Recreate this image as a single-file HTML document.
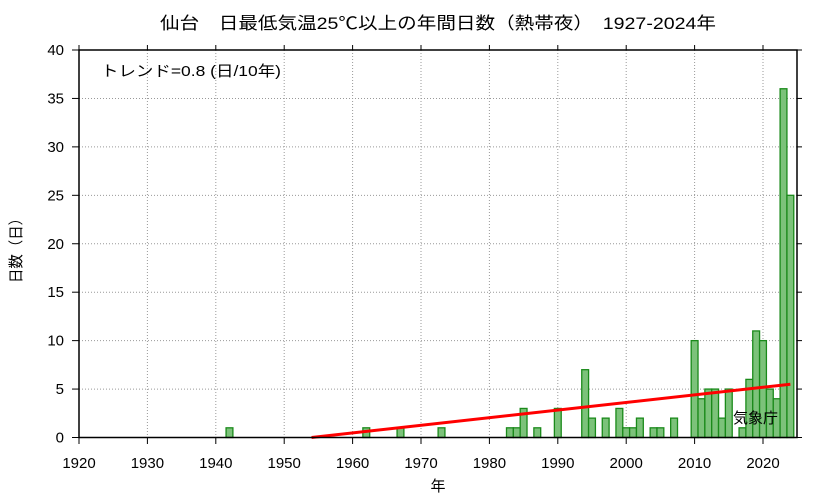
<!DOCTYPE html>
<html><head><meta charset="utf-8"><style>
body{margin:0;background:#fff}
svg{display:block;font-family:"Liberation Sans","Noto Sans CJK JP",sans-serif}
</style></head><body>
<svg id="s" width="833" height="498" viewBox="0 0 833 498"></svg>
<script>
var s=document.getElementById('s'),h='';
var X=function(y){return 79+(y-1920)*6.84},Y=function(v){return 437.5-v*9.6875};
for(var g=1930;g<=2020;g+=10){h+='<line x1="'+X(g)+'" y1="50" x2="'+X(g)+'" y2="437" stroke="#999" stroke-dasharray="1,2"/>';}
for(var v=5;v<=35;v+=5){h+='<line x1="79" y1="'+Y(v)+'" x2="797" y2="'+Y(v)+'" stroke="#999" stroke-dasharray="1,2"/>';}
var d={1942:1,1962:1,1967:1,1973:1,1983:1,1984:1,1985:3,1987:1,1990:3,1994:7,1995:2,1997:2,1999:3,2000:1,2001:1,2002:2,2004:1,2005:1,2007:2,2010:10,2011:4,2012:5,2013:5,2014:2,2015:5,2017:1,2018:6,2019:11,2020:10,2021:5,2022:4,2023:36,2024:25};
for(var k in d){var x=X(+k)-3.42;h+='<rect x="'+x+'" y="'+Y(d[k])+'" width="6.84" height="'+(437.5-Y(d[k]))+'" fill="#7cc27a" stroke="#1a8a1a" stroke-width="1.3"/>';}
h+='<line x1="'+X(1954)+'" y1="'+Y(0)+'" x2="'+X(2024)+'" y2="'+Y(5.5)+'" stroke="#f00" stroke-width="3"/>';
h+='<rect x="79" y="50" width="718" height="387.5" fill="none" stroke="#000" stroke-width="1.5"/>';
for(var g=1920;g<=2020;g+=10){var x=X(g);h+='<line x1="'+x+'" y1="437" x2="'+x+'" y2="444" stroke="#000"/><line x1="'+x+'" y1="50" x2="'+x+'" y2="45" stroke="#000"/><text x="'+x+'" y="468" font-size="15" text-anchor="middle">'+g+'</text>';}
for(var v=0;v<=40;v+=5){var y=Y(v);h+='<line x1="72" y1="'+y+'" x2="79" y2="'+y+'" stroke="#000"/><line x1="797" y1="'+y+'" x2="802" y2="'+y+'" stroke="#000"/><text x="64" y="'+(y+5)+'" font-size="15" text-anchor="end">'+v+'</text>';}
h+='<text x="160" y="29" font-size="17" textLength="556" lengthAdjust="spacingAndGlyphs">仙台　日最低気温25℃以上の年間日数（熱帯夜）　1927-2024年</text>';
h+='<text x="101" y="76" font-size="15" textLength="180" lengthAdjust="spacingAndGlyphs">トレンド=0.8 (日/10年)</text>';
h+='<text x="733" y="423" font-size="15">気象庁</text>';
h+='<text x="438" y="491" font-size="15" text-anchor="middle">年</text>';
h+='<text transform="translate(21,247) rotate(-90)" font-size="15" text-anchor="middle" textLength="72" lengthAdjust="spacingAndGlyphs">日数（日）</text>';
s.innerHTML=h;
</script>
</body></html>
